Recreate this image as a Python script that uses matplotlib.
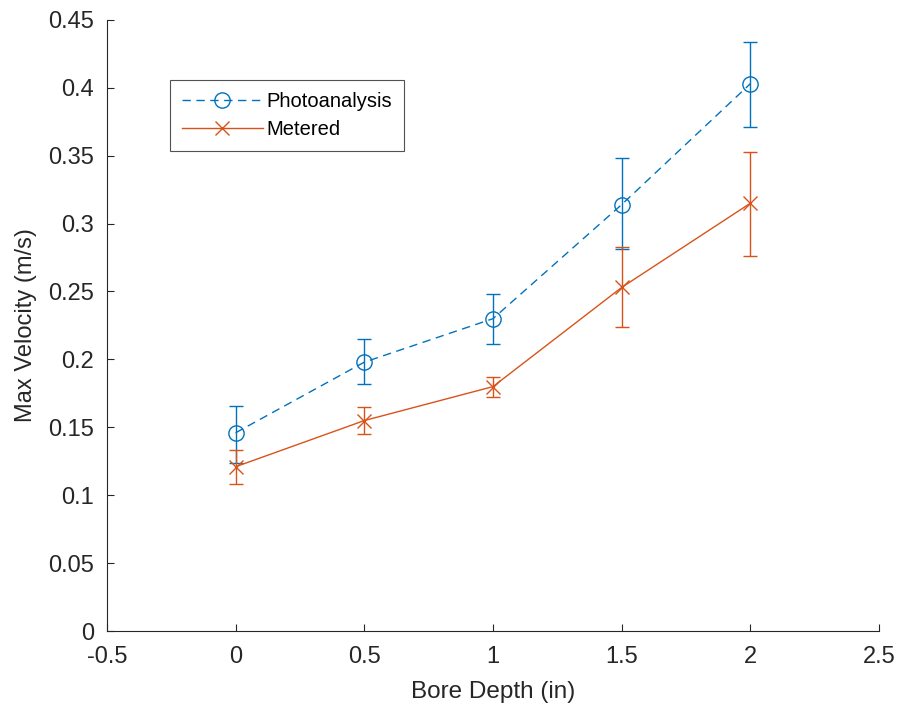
import matplotlib

matplotlib.use("Agg")
import matplotlib.pyplot as plt
from matplotlib.lines import Line2D

plt.rcParams["font.family"] = ["Liberation Sans", "DejaVu Sans"]

# bore depth (in)
depth = [0, 0.5, 1, 1.5, 2]

photo_v = [0.146, 0.198, 0.230, 0.314, 0.403]
photo_lo = [0.022, 0.016, 0.019, 0.033, 0.032]
photo_hi = [0.020, 0.017, 0.018, 0.034, 0.031]

meter_v = [0.121, 0.155, 0.180, 0.253, 0.315]
meter_lo = [0.013, 0.010, 0.008, 0.029, 0.039]
meter_hi = [0.012, 0.010, 0.007, 0.030, 0.038]

blue = "#0072BD"
orange = "#D95319"
axcol = "#262626"

fig = plt.figure(figsize=(8.98, 7.06), dpi=100)
ax = fig.add_axes([0.119, 0.106, 0.860, 0.866])

dash = (0, (6, 4))
eb1 = ax.errorbar(depth, photo_v, yerr=[photo_lo, photo_hi], color=blue,
                  ls=dash, lw=1.0, marker="o", ms=11, mfc="none",
                  mew=1.0, ecolor=blue, elinewidth=1.0, capsize=5)
eb2 = ax.errorbar(depth, meter_v, yerr=[meter_lo, meter_hi], color=orange,
                  ls="-", lw=1.0, marker="x", ms=10, mew=1.0,
                  ecolor=orange, elinewidth=1.0, capsize=5)
for cl in list(eb1[1]) + list(eb2[1]):
    cl.set_color(axcol)

ax.set_xlim(-0.5, 2.5)
ax.set_ylim(0, 0.45)
ax.set_xticks([-0.5, 0, 0.5, 1, 1.5, 2, 2.5])
ax.set_xticklabels(["-0.5", "0", "0.5", "1", "1.5", "2", "2.5"])
ax.set_yticks([0, 0.05, 0.1, 0.15, 0.2, 0.25, 0.3, 0.35, 0.4, 0.45])
ax.set_yticklabels(["0", "0.05", "0.1", "0.15", "0.2", "0.25", "0.3",
                    "0.35", "0.4", "0.45"])
ax.tick_params(direction="in", length=5, colors=axcol, labelsize=17)
ax.tick_params(axis="y", pad=9)
ax.tick_params(axis="x", pad=11)
for s in ("top", "right"):
    ax.spines[s].set_visible(False)
for s in ("left", "bottom"):
    ax.spines[s].set_color(axcol)
ax.set_xlabel("Bore Depth (in)", fontsize=17.5, color=axcol, labelpad=9)
ax.set_ylabel("Max Velocity (m/s)", fontsize=17, color=axcol, labelpad=8)

handles = [
    Line2D([], [], color=blue, ls=dash, lw=1.0, marker="o", ms=11,
           mfc="none", mew=1.0),
    Line2D([], [], color=orange, ls="-", lw=1.0, marker="x", ms=10, mew=1.0),
]
leg = ax.legend(handles, ["Photoanalysis", "Metered"], loc="upper left",
                bbox_to_anchor=(0.0816, 0.902), borderaxespad=0,
                fontsize=14.5, frameon=True, fancybox=False, borderpad=0.6,
                labelspacing=0.45, handlelength=4.0, handletextpad=0.2,
                edgecolor=axcol)
leg.get_frame().set_linewidth(0.8)

fig.savefig("out.png", dpi=100)
